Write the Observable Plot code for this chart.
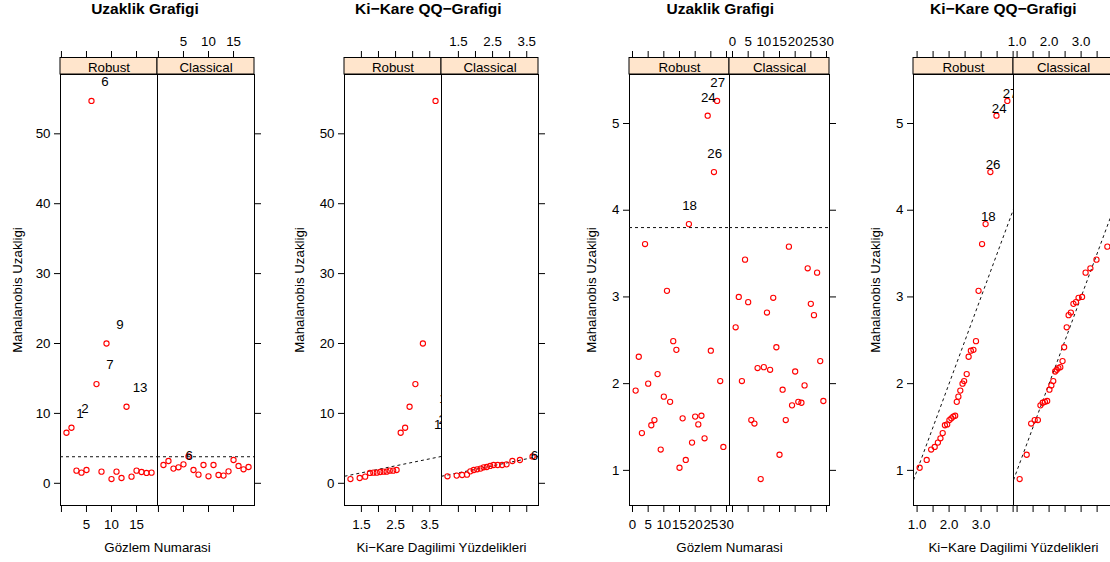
<!DOCTYPE html>
<html><head><meta charset="utf-8">
<script src="https://cdn.jsdelivr.net/npm/d3@7"></script>
<script src="https://cdn.jsdelivr.net/npm/@observablehq/plot@0.6"></script>
<style>
html,body{margin:0;padding:0;background:#fff;}
body{width:1110px;height:562px;overflow:hidden;position:relative;font-family:"Liberation Sans",Arial,Helvetica,sans-serif;}
.chart{position:absolute;top:0;width:286px;height:562px;}
.ttl{position:absolute;top:0;width:300px;height:20px;line-height:18px;text-align:center;font-weight:bold;font-size:15.5px;color:#000;white-space:nowrap;}
.chart svg{position:absolute;top:20px;left:0;}
</style></head><body>
<script>
// ---------- data ----------
const panels = ["Robust", "Classical"];
const cutoff = 3.8;

// data set A (n = 18): distances per observation
const robustA = [7.23, 7.95, 1.81, 1.52, 1.90, 54.7, 14.19, 1.67, 20.0, 0.61, 1.67, 0.76, 10.95, 0.95, 1.81, 1.62, 1.48, 1.52];
const classicalA = [2.62, 3.19, 2.10, 2.29, 2.71, 3.84, 1.90, 1.24, 2.62, 1.00, 2.62, 1.19, 1.10, 1.71, 3.33, 2.48, 2.00, 2.33];
// chi-square quantiles (x of QQ plot)
const qqA = [1.18, 1.45, 1.61, 1.75, 1.85, 1.95, 2.05, 2.15, 2.24, 2.33, 2.43, 2.53, 2.65, 2.78, 2.91, 3.08, 3.30, 3.67];

// data set B (n = 29)
const robustB = [1.92, 2.31, 1.43, 3.61, 2.00, 1.52, 1.58, 2.11, 1.24, 1.85, 3.07, 1.79, 2.49, 2.39, 1.03, 1.60, 1.12, 3.84, 1.32, 1.62, 1.53, 1.63, 1.37, 5.09, 2.38, 4.44, 5.26, 2.03, 1.27];
const classicalB = [2.65, 3.00, 2.03, 3.43, 2.94, 1.58, 1.54, 2.18, 0.90, 2.19, 2.82, 2.16, 2.99, 2.42, 1.18, 1.93, 1.58, 3.58, 1.75, 2.14, 1.79, 1.78, 1.98, 3.33, 2.92, 2.79, 3.28, 2.26, 1.80];
const qqB = [1.08, 1.30, 1.44, 1.55, 1.65, 1.73, 1.80, 1.87, 1.94, 2.01, 2.07, 2.13, 2.19, 2.24, 2.29, 2.35, 2.42, 2.47, 2.55, 2.61, 2.68, 2.76, 2.84, 2.92, 3.03, 3.14, 3.29, 3.48, 3.82];

// tick values
const yTicksA = [0, 10, 20, 30, 40, 50];
const yTicksB = [1, 2, 3, 4, 5];
const xTicksDistA = [0, 5, 10, 15];
const xLabelsDistA = [5, 10, 15];
const xTicksQQA = [1.5, 2, 2.5, 3, 3.5];
const xLabelsQQA = [1.5, 2.5, 3.5];
const xTicksDistB = [0, 5, 10, 15, 20, 25, 30];
const xLabelsDistB = [0, 5, 10, 15, 20, 25, 30];
const xTicksQQB = [1, 1.5, 2, 2.5, 3, 3.5, 4];
const xLabelsQQB = [1, 2, 3];

// texts
const titleDist = "Uzaklik Grafigi";
const titleQQ = "Ki\u2212Kare QQ\u2212Grafigi";
const yTitle = "Mahalanobis Uzakligi";
const xTitleDist = "Gözlem Numarasi";
const xTitleQQ = "Ki\u2212Kare Dagilimi Yüzdelikleri";

// ---------- helpers ----------
function distRows(rob, cla) {
  const rows = [];
  [[panels[0], rob], [panels[1], cla]].forEach(([p, vals]) =>
    vals.forEach((v, i) => rows.push({panel: p, x: i + 1, y: v, id: i + 1})));
  return rows;
}
function qqRows(rob, cla, qx) {
  const rows = [];
  [[panels[0], rob], [panels[1], cla]].forEach(([p, vals]) => {
    const idx = d3.range(vals.length).sort((a, b) => vals[a] - vals[b]);
    idx.forEach((i, k) => rows.push({panel: p, x: qx[k], y: vals[i], id: i + 1}));
  });
  return rows;
}
const padded = (ext) => { const r = ext[1] - ext[0]; return [ext[0] - 0.07 * r, ext[1] + 0.07 * r]; };

const W = 286, H = 542, MT = 54, MB = 57, FH = H - MT - MB, STRIP = 16.5;
const FONT = "'Liberation Sans', Arial, Helvetica, sans-serif";
const DASH = "3,3";

function makeChart(cfg) {
  const rows = cfg.rows;
  const xDom = padded(d3.extent(rows, d => d.x));
  const yDom = padded(d3.extent(rows, d => d.y));
  const inX = v => v >= xDom[0] && v <= xDom[1];
  const tickRows = panels.flatMap(p => cfg.xTicks.filter(inX).map(v => ({panel: p, v})));
  const topLab = cfg.xLabels.filter(inX).map(v => ({panel: panels[1], v}));
  const botLab = cfg.xLabels.filter(inX).map(v => ({panel: panels[0], v}));
  // labelled points: above cutoff, shifted by range/div as in the original code
  const labRows = panels.flatMap(p => {
    const pr = rows.filter(d => d.panel === p);
    const ext = d3.extent(pr, d => d.y);
    const adj = (ext[1] - ext[0]) / cfg.adjDiv;
    return pr.filter(d => d.y > cutoff).map(d => ({...d, adj}));
  });
  const refMark = cfg.kind === "dist"
    ? Plot.ruleY([cutoff], {stroke: "#111", strokeDasharray: DASH})
    : Plot.link([xDom], {x1: d => d[0], y1: d => d[0], x2: d => d[1], y2: d => d[1],
        stroke: "#111", strokeDasharray: DASH, clip: true});

  const svg = Plot.plot({
    width: W, height: H,
    marginTop: MT, marginBottom: MB, marginLeft: cfg.mL, marginRight: cfg.mR,
    style: {fontFamily: FONT, fontSize: "13.3px", color: "#000", background: "transparent", overflow: "visible"},
    fx: {domain: panels, padding: 0, axis: null, label: null},
    x: {domain: xDom, axis: null},
    y: {domain: yDom},
    marks: [
      Plot.rect(panels, {fx: d => d, fill: "#FFE5CC", stroke: "#000", insetTop: -STRIP, insetBottom: FH}),
      Plot.text(panels, {fx: d => d, text: d => d, frameAnchor: "top", lineAnchor: "middle", dy: -7}),
      Plot.frame({stroke: "#000"}),
      Plot.tickX(tickRows, {x: "v", fx: "panel", stroke: "#000", insetTop: -(STRIP + 6.5), insetBottom: FH + STRIP}),
      Plot.tickX(tickRows, {x: "v", fx: "panel", stroke: "#000", insetTop: FH, insetBottom: -7}),
      Plot.text(topLab, {x: "v", fx: "panel", text: d => cfg.fmt(d.v), frameAnchor: "top", lineAnchor: "middle", dy: -33}),
      Plot.text(botLab, {x: "v", fx: "panel", text: d => cfg.fmt(d.v), frameAnchor: "bottom", lineAnchor: "middle", dy: 19}),
      Plot.axisY(cfg.yTicks, {anchor: "left", tickSize: 6, tickPadding: 4, label: null, tickFormat: d => String(d)}),
      Plot.axisY(cfg.yTicks, {anchor: "right", tickSize: 6, label: null, tickFormat: () => ""}),
      refMark,
      Plot.dot(rows, {x: "x", y: "y", fx: "panel", r: 2.6, stroke: "#FF0000", strokeWidth: 1.1, fill: "none"}),
      Plot.text(labRows, {x: d => d.x + d.adj, y: d => d.y + d.adj, text: d => String(d.id), fx: "panel", clip: true}),
      Plot.text([cfg.yTitle], {fx: () => panels[0], text: d => d, frameAnchor: "left", textAnchor: "middle", lineAnchor: "middle", rotate: -90, dx: -cfg.yDx}),
      Plot.text([cfg.xTitle], {fx: () => panels[0], text: d => d, frameAnchor: "bottom-right", textAnchor: "middle", lineAnchor: "middle", dy: 42})
    ]
  });

  const div = document.createElement("div");
  div.className = "chart";
  div.style.left = cfg.left + "px";
  const t = document.createElement("div");
  t.className = "ttl";
  t.style.left = (cfg.titleC - 150) + "px";
  t.textContent = cfg.title;
  div.appendChild(t);
  div.appendChild(svg);
  document.body.appendChild(div);
}

makeChart({left: 0, mL: 60, mR: 32, titleC: 145, yDx: 42.5, kind: "dist", adjDiv: 20,
  rows: distRows(robustA, classicalA), xTicks: xTicksDistA, xLabels: xLabelsDistA, fmt: d => String(d),
  yTicks: yTicksA, title: titleDist, xTitle: xTitleDist, yTitle});
makeChart({left: 286, mL: 58, mR: 34, titleC: 142.3, yDx: 44.8, kind: "qq", adjDiv: 50,
  rows: qqRows(robustA, classicalA, qqA), xTicks: xTicksQQA, xLabels: xLabelsQQA, fmt: d => d.toFixed(1),
  yTicks: yTicksA, title: titleQQ, xTitle: xTitleQQ, yTitle});
makeChart({left: 572, mL: 56, mR: 29, titleC: 148.3, yDx: 37.5, kind: "dist", adjDiv: 20,
  rows: distRows(robustB, classicalB), xTicks: xTicksDistB, xLabels: xLabelsDistB, fmt: d => String(d),
  yTicks: yTicksB, title: titleDist, xTitle: xTitleDist, yTitle});
makeChart({left: 858, mL: 54, mR: 31, titleC: 145.3, yDx: 37.7, kind: "qq", adjDiv: 50,
  rows: qqRows(robustB, classicalB, qqB), xTicks: xTicksQQB, xLabels: xLabelsQQB, fmt: d => d.toFixed(1),
  yTicks: yTicksB, title: titleQQ, xTitle: xTitleQQ, yTitle});
</script>
</body></html>
